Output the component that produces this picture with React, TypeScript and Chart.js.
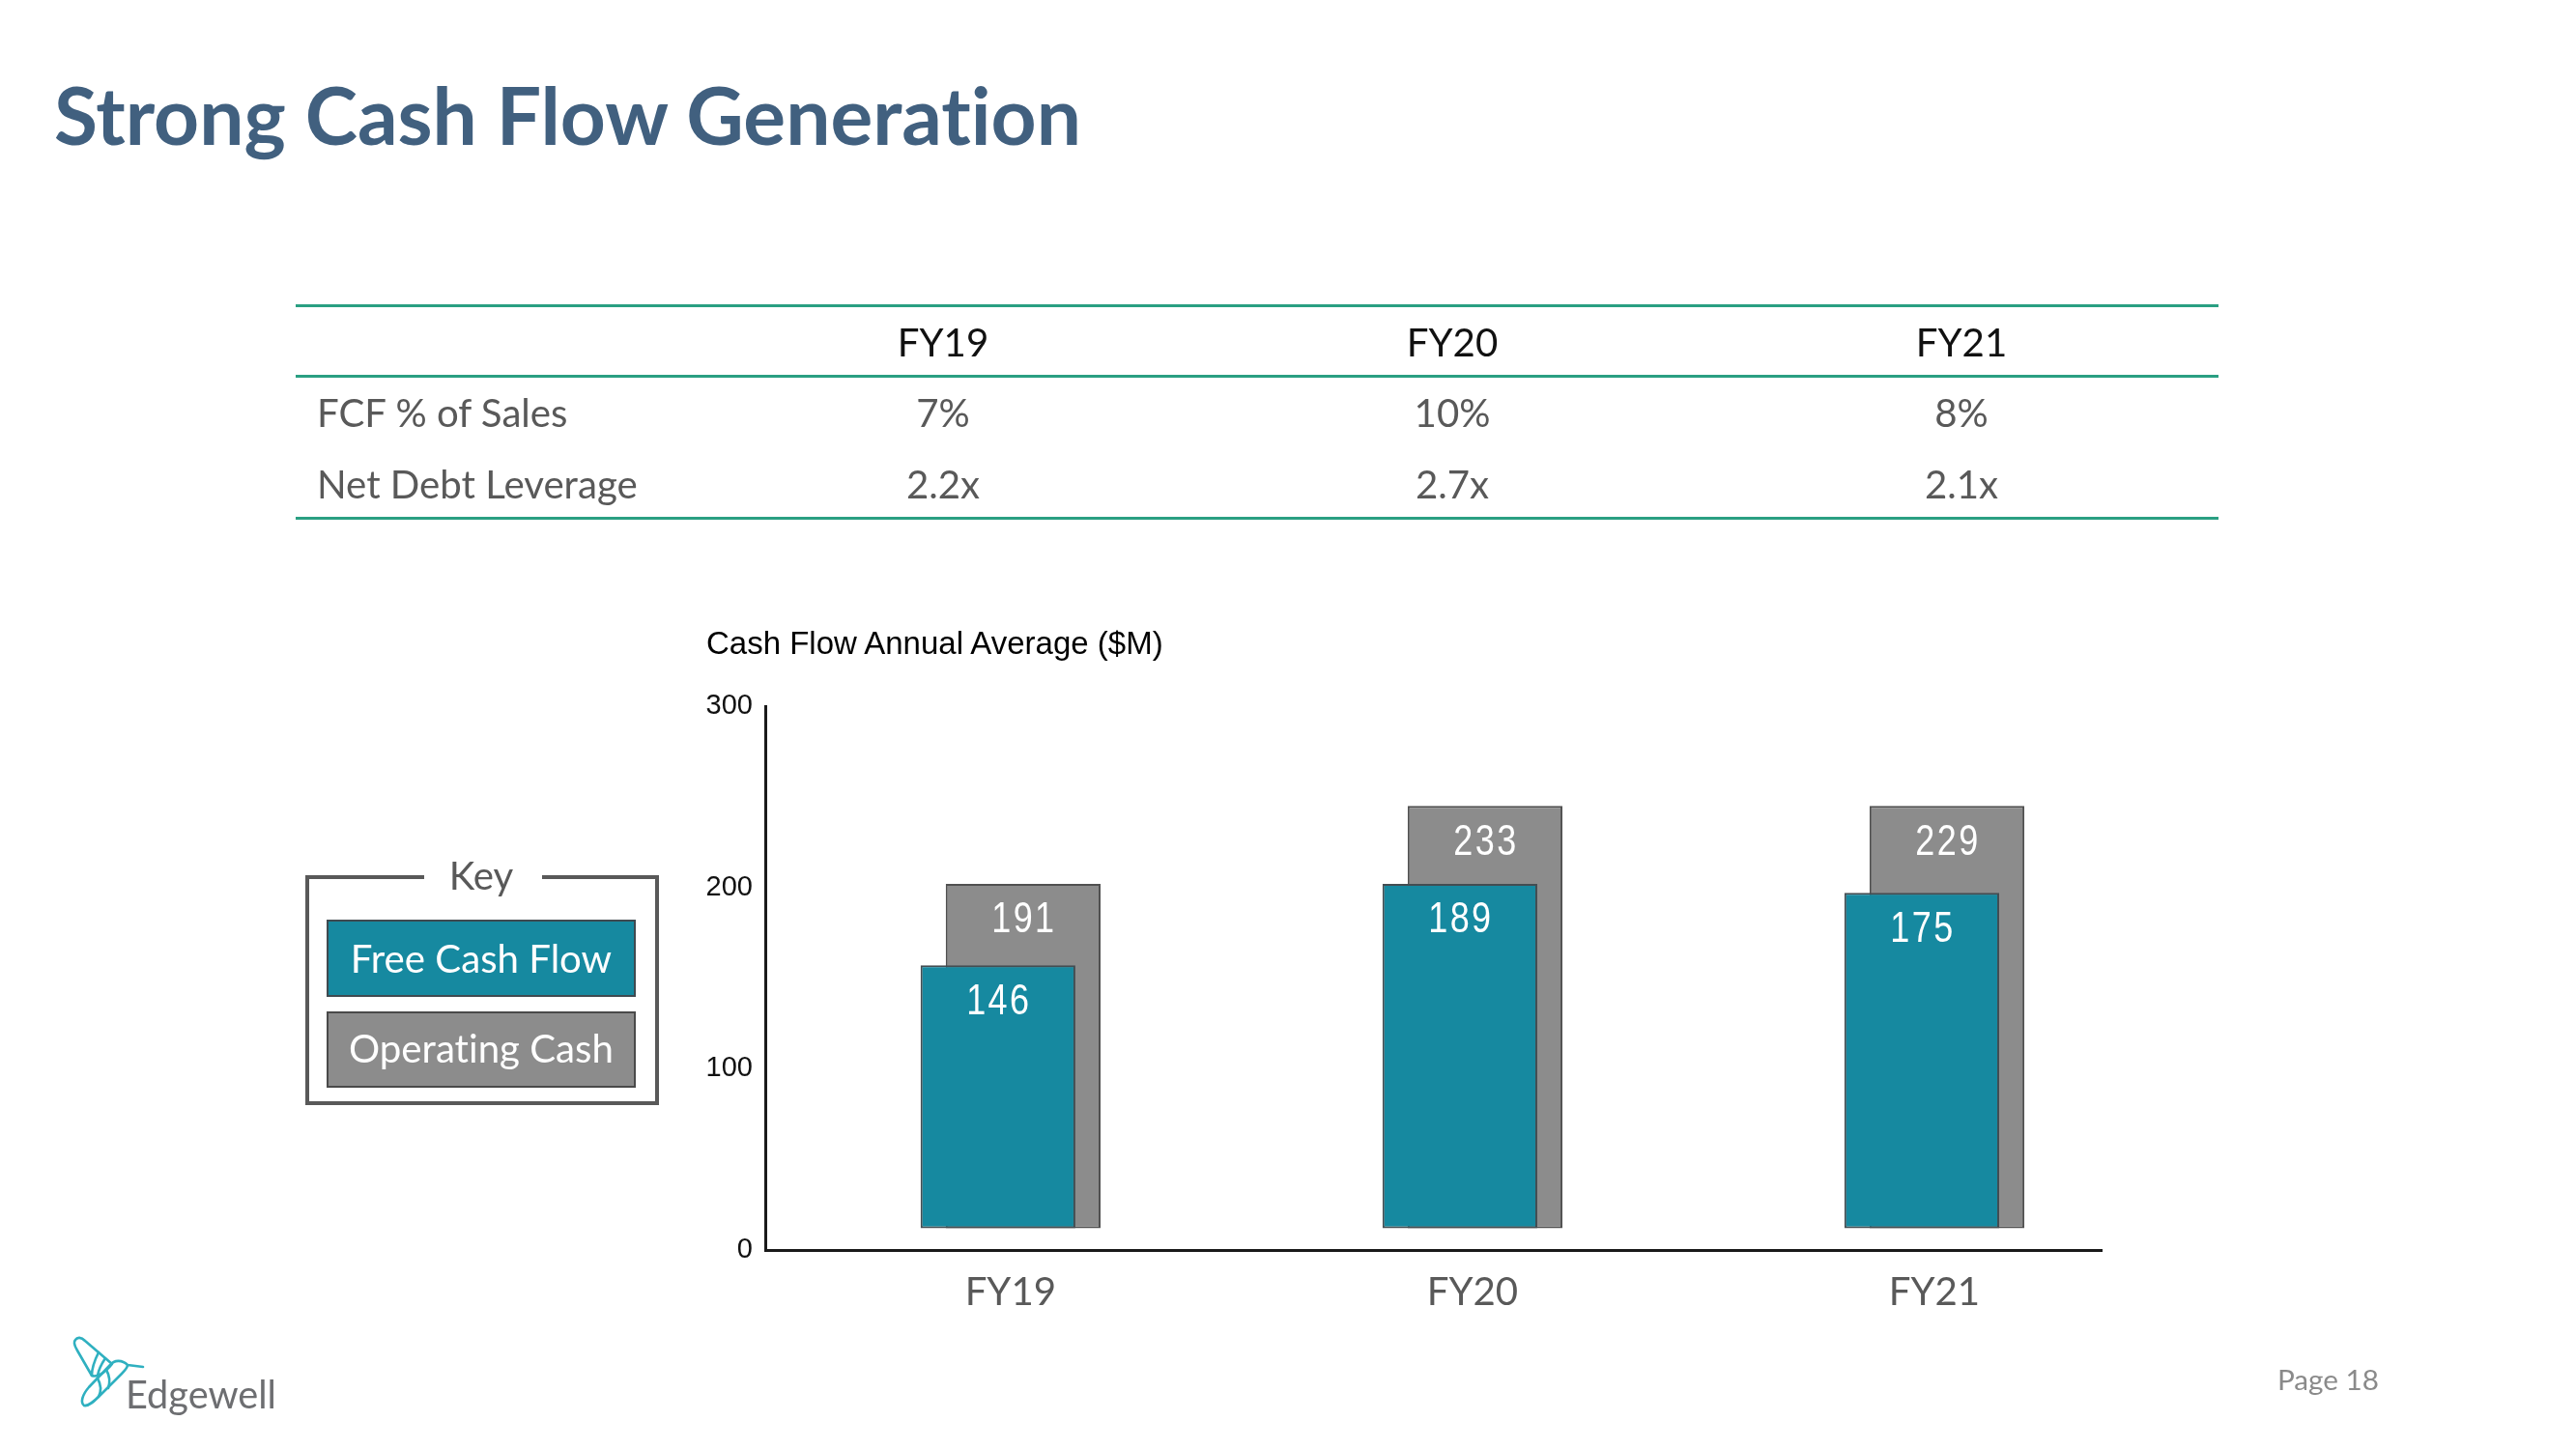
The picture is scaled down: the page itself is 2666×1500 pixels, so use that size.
import React, { useEffect, useRef } from "react";
import { Chart, registerables } from "chart.js";

Chart.register(...registerables);

// ---------- data ----------
const categories = ["FY19", "FY20", "FY21"];
const freeCashFlow = [146, 189, 175];
const operatingCash = [191, 233, 229];
// bar extents as drawn against the slide's $M axis
const barBase = [12, 12, 12];
const fcfBarTop = [157, 202, 197];
const opCashBarTop = [202, 245, 245];
const yAxisMin = 0;
const yAxisMax = 300;
const yAxisStep = 100;

const tableColumns = ["FY19", "FY20", "FY21"];
const rowLabels = ["FCF % of Sales", "Net Debt Leverage"];
const fcfPctOfSales = ["7%", "10%", "8%"];
const netDebtLeverage = ["2.2x", "2.7x", "2.1x"];

const TEAL = "#1689a0";
const GREY = "#8c8c8c";
const GREEN = "#2a9f82";
const TEXT_GREY = "#595959";

let mctx: CanvasRenderingContext2D | null = null;
function fitSize(text: string, weight: number, family: string, target: number, fallback: number) {
  try {
    if (!mctx) mctx = document.createElement("canvas").getContext("2d");
    if (!mctx) return fallback;
    mctx.font = `${weight} 100px ${family}`;
    const w = mctx.measureText(text).width;
    if (!w) return fallback;
    return Math.round((1000 * target) / w) / 10;
  } catch (e) {
    return fallback;
  }
}

function Txt(props: {
  x: number; y: number; size: number; family?: string; weight?: number; color: string;
  anchor?: "left" | "center" | "right"; k?: number; children: React.ReactNode;
}) {
  const { x, y, size, family = "Lato, sans-serif", weight = 400, color, anchor = "left", k = 0.529 } = props;
  const style: React.CSSProperties = {
    position: "absolute",
    left: x,
    top: y - k * size,
    fontFamily: family,
    fontWeight: weight,
    fontSize: size,
    lineHeight: 1,
    color,
    whiteSpace: "nowrap",
    fontVariantLigatures: "none",
    transform: anchor === "center" ? "translateX(-50%)" : anchor === "right" ? "translateX(-100%)" : undefined,
  };
  return <div style={style}>{props.children}</div>;
}

const valueLabelPlugin = {
  id: "valueLabels",
  afterDatasetsDraw(chart: any) {
    const ctx = chart.ctx as CanvasRenderingContext2D;
    [freeCashFlow, operatingCash].forEach((vals, di) => {
      const meta = chart.getDatasetMeta(di);
      meta.data.forEach((el: any, i: number) => {
        ctx.save();
        ctx.fillStyle = "#ffffff";
        ctx.font = '45px "Liberation Sans", Arial, sans-serif';
        ctx.textAlign = "center";
        ctx.textBaseline = "middle";
        try { (ctx as any).letterSpacing = "3px"; } catch (e) {}
        ctx.translate(el.x + 1, el.y + 38);
        ctx.scale(0.8, 1);
        ctx.fillText(String(vals[i]), 0, 0);
        ctx.restore();
      });
    });
  },
};

export default function App() {
  const canvasRef = useRef<HTMLCanvasElement | null>(null);

  const titleSize = fitSize("Strong Cash Flow Generation", 700, '"Lato"', 1066, 88);
  const bodySize = fitSize("Net Debt Leverage", 400, '"Lato"', 332, 42);
  const chartTitleSize = fitSize("Cash Flow Annual Average ($M)", 400, '"Liberation Sans"', 476, 33);
  const logoSize = fitSize("Edgewell", 400, '"Lato"', 156, 35);
  const pageSize = fitSize("Page 18", 400, '"Lato"', 105, 28);

  useEffect(() => {
    if (!canvasRef.current) return;
    const chart = new Chart(canvasRef.current, {
      type: "bar",
      data: {
        datasets: [
          {
            label: "Free Cash Flow",
            data: categories.map((_, i) => ({ x: i, y: [barBase[i], fcfBarTop[i]] })) as any,
            backgroundColor: TEAL,
            borderColor: "#434d52",
            borderWidth: 2,
            borderSkipped: false,
            categoryPercentage: 0.109,
            barPercentage: 6.15,
          },
          {
            label: "Operating Cash",
            data: categories.map((_, i) => ({ x: i, y: [barBase[i], opCashBarTop[i]] })) as any,
            backgroundColor: GREY,
            borderColor: "#505050",
            borderWidth: 2,
            borderSkipped: false,
            categoryPercentage: 0.109,
            barPercentage: 6.15,
          },
        ],
      },
      options: {
        responsive: false,
        animation: false,
        devicePixelRatio: 1,
        layout: { padding: { left: 0, right: 491, top: 731, bottom: 0 } },
        plugins: {
          legend: { display: false },
          tooltip: { enabled: false },
          title: { display: false },
        },
        scales: {
          x: {
            type: "linear",
            min: -0.531,
            max: 2.362,
            offset: false,
            grid: { display: false, drawTicks: false, offset: false },
            border: { display: true, color: "#1a1a1a", width: 3 },
            ticks: {
              stepSize: 1,
              includeBounds: false,
              autoSkip: false,
              maxRotation: 0,
              padding: 20,
              color: TEXT_GREY,
              font: { family: "Lato", size: bodySize },
              callback: (v: any) => (Number.isInteger(v) && categories[v] ? categories[v] : ""),
            },
            afterFit: (s: any) => { s.height = 206; },
          },
          y: {
            min: yAxisMin,
            max: yAxisMax,
            grid: { display: false, drawTicks: false },
            border: { display: true, color: "#1a1a1a", width: 3 },
            ticks: {
              stepSize: yAxisStep,
              padding: 13,
              color: "#111111",
              font: { family: "Liberation Sans", size: 29 },
            },
            afterFit: (s: any) => { s.width = 792; },
          },
        },
      } as any,
      plugins: [valueLabelPlugin],
    });
    return () => chart.destroy();
  }, [bodySize]);

  const colX = [976, 1503, 2030];

  return (
    <div style={{ position: "fixed", left: 0, top: 0, width: 2666, height: 1500, background: "#ffffff", overflow: "hidden", fontVariantLigatures: "none" }}>
      <canvas ref={canvasRef} width={2666} height={1500} style={{ position: "absolute", left: 0, top: 0, width: 2666, height: 1500 }} />

      {/* Title */}
      <Txt x={56} y={120} size={titleSize} weight={700} color="#41607f">Strong Cash Flow Generation</Txt>

      {/* Table */}
      <div style={{ position: "absolute", left: 306, top: 315, width: 1990, height: 3, background: GREEN }} />
      <div style={{ position: "absolute", left: 306, top: 388, width: 1990, height: 3, background: GREEN }} />
      <div style={{ position: "absolute", left: 306, top: 535, width: 1990, height: 3, background: GREEN }} />
      {tableColumns.map((c, i) => (
        <Txt key={c} x={colX[i]} y={355} size={bodySize} color="#111111" anchor="center">{c}</Txt>
      ))}
      <Txt x={328} y={428} size={bodySize} color={TEXT_GREY}>{rowLabels[0]}</Txt>
      <Txt x={328} y={502} size={bodySize} color={TEXT_GREY}>{rowLabels[1]}</Txt>
      {fcfPctOfSales.map((v, i) => (
        <Txt key={"f" + i} x={colX[i]} y={428} size={bodySize} color={TEXT_GREY} anchor="center">{v}</Txt>
      ))}
      {netDebtLeverage.map((v, i) => (
        <Txt key={"n" + i} x={colX[i]} y={502} size={bodySize} color={TEXT_GREY} anchor="center">{v}</Txt>
      ))}

      {/* Chart title */}
      <Txt x={731} y={665} size={chartTitleSize} family='"Liberation Sans", Arial, sans-serif' k={0.489} color="#000000">
        Cash Flow Annual Average ($M)
      </Txt>

      {/* Key */}
      <div style={{ position: "absolute", left: 316, top: 906, width: 366, height: 238, boxSizing: "border-box", border: "4px solid #595959" }} />
      <div style={{ position: "absolute", left: 439, top: 900, width: 122, height: 16, background: "#ffffff" }} />
      <Txt x={498} y={907} size={bodySize} color={TEXT_GREY} anchor="center">Key</Txt>
      <div style={{ position: "absolute", left: 338, top: 952, width: 320, height: 80, boxSizing: "border-box", background: TEAL, border: "2px solid #3f4a50" }} />
      <Txt x={498} y={993} size={bodySize} color="#ffffff" anchor="center">Free Cash Flow</Txt>
      <div style={{ position: "absolute", left: 338, top: 1047, width: 320, height: 79, boxSizing: "border-box", background: GREY, border: "2px solid #4a4a4a" }} />
      <Txt x={498} y={1086} size={bodySize} color="#ffffff" anchor="center">Operating Cash</Txt>

      {/* Logo */}
      <svg width={2666} height={1500} style={{ position: "absolute", left: 0, top: 0, pointerEvents: "none" }}>
        <g fill="none" stroke="#2fb0c0" strokeWidth={2.6} strokeLinejoin="round" strokeLinecap="round">
          <path d="M 78 1387 C 80 1384 84 1384 88 1388 L 116 1412 C 108 1422 100 1426 95 1424 L 80 1398 C 77 1393 76 1389 78 1387 Z" />
          <path d="M 102 1400 C 98 1408 95 1416 95 1424" />
          <path d="M 109 1406 C 105 1412 102 1418 101 1424" />
          <path d="M 148 1415 L 132 1413 C 126 1407 118 1408 114 1413 L 92 1436 C 85 1444 83 1452 87 1455 C 92 1456 98 1450 104 1444 L 126 1422 C 130 1418 132 1415 132 1413" />
          <path d="M 110 1418 C 114 1425 114 1431 112 1437" />
          <path d="M 101 1427 C 105 1434 105 1440 102 1446" />
        </g>
      </svg>
      <Txt x={130} y={1444} size={logoSize} color="#6d6e71">Edgewell</Txt>

      {/* Page number */}
      <Txt x={2357} y={1429} size={pageSize} color="#8a8a8a">Page 18</Txt>
    </div>
  );
}
